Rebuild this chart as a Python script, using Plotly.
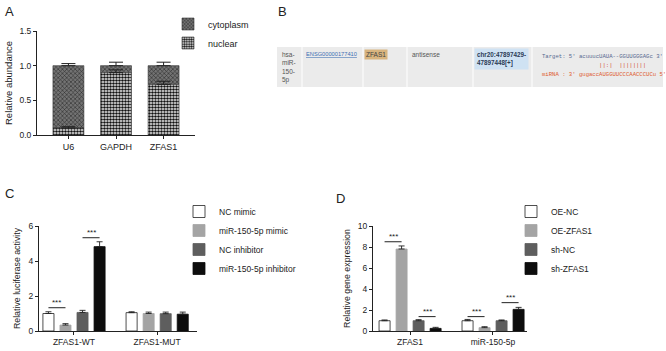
import plotly.graph_objects as go

W, H = 666, 351
FONT = "Liberation Sans"
INK = "#222222"

# ---------------- Panel A data ----------------
a_categories = ["U6", "GAPDH", "ZFAS1"]
a_nuclear = [0.10, 0.90, 0.73]
a_nuclear_top = [0.12, 0.94, 0.775]      # top of error bar
a_cytoplasm = [0.90, 0.10, 0.27]
a_cytoplasm_top = [1.03, 1.05, 1.05]     # top of error bar (stacked)
a_yticks = [0.0, 0.5, 1.0, 1.5]

# ---------------- Panel B data ----------------
b_mirna = "hsa-<br>miR-<br>150-<br>5p"
b_gene_id = "ENSG00000177410"
b_gene = "ZFAS1"
b_type = "antisense"
b_location = "chr20:47897429-<br>47897448[+]"
b_target = "Target: 5' acuuucUAUA--GGUUGGGAGc 3'"
b_pairs = "                 ||:|  ||||||||"
b_mirna_seq = "miRNA : 3' gugaccAUGGUUCCCAACCCUCu 5'"

# ---------------- Panel C data ----------------
c_categories = ["ZFAS1-WT", "ZFAS1-MUT"]
c_series = ["NC mimic", "miR-150-5p mimic", "NC inhibitor", "miR-150-5p inhibitor"]
c_nc_mimic = [1.00, 1.05]
c_nc_mimic_top = [1.10, 1.10]
c_mimic = [0.34, 1.00]
c_mimic_top = [0.42, 1.08]
c_nc_inhibitor = [1.06, 0.99]
c_nc_inhibitor_top = [1.18, 1.08]
c_inhibitor = [4.82, 0.96]
c_inhibitor_top = [5.10, 1.08]
c_yticks = [0, 2, 4, 6]
# significance: (category index, bar i, bar j, line height)
c_sig = [(0, 0, 1, 1.33), (0, 2, 3, 5.33)]

# ---------------- Panel D data ----------------
d_categories = ["ZFAS1", "miR-150-5p"]
d_series = ["OE-NC", "OE-ZFAS1", "sh-NC", "sh-ZFAS1"]
d_oe_nc = [0.98, 0.98]
d_oe_nc_top = [1.05, 1.10]
d_oe_zfas1 = [7.81, 0.32]
d_oe_zfas1_top = [8.10, 0.41]
d_sh_nc = [0.98, 0.98]
d_sh_nc_top = [1.08, 1.05]
d_sh_zfas1 = [0.25, 2.06]
d_sh_zfas1_top = [0.35, 2.25]
d_yticks = [0, 2, 4, 6, 8, 10]
d_sig = [(0, 0, 1, 8.5), (0, 2, 3, 1.37), (1, 0, 1, 1.37), (1, 2, 3, 2.7)]

# ---------------- styles ----------------
FILLS = ["#ffffff", "#a4a4a4", "#5e5e5e", "#0d0d0d"]
EDGES = ["#222222", "#a4a4a4", "#5e5e5e", "#0d0d0d"]
BAR_W = 0.133
STEP = 0.205
OFF0 = -0.373


def px_x(p):
    return p / W


def px_y(p):
    return 1 - p / H


fig = go.Figure()


def errs(vals, tops):
    return [t - v for v, t in zip(vals, tops)]


# ---------------- Panel A ----------------
fig.add_trace(go.Bar(
    x=a_categories, y=a_cytoplasm, base=a_nuclear, name="cytoplasm",
    xaxis="x", yaxis="y", width=0.65, legend="legend",
    marker=dict(color="#666666", line=dict(color="#333333", width=0.6),
                pattern=dict(shape="x", fgcolor="#2a2a2a", bgcolor="#737373",
                             size=3, solidity=0.35)),
    error_y=dict(type="data", symmetric=False,
                 array=errs(a_cytoplasm, [t - n for t, n in zip(a_cytoplasm_top, a_nuclear)]),
                 arrayminus=[0] * 3, color=INK, thickness=1, width=7),
))
fig.add_trace(go.Bar(
    x=a_categories, y=a_nuclear, name="nuclear",
    xaxis="x", yaxis="y", width=0.65, legend="legend",
    marker=dict(color="#ffffff", line=dict(color="#333333", width=0.6),
                pattern=dict(shape=".", fgcolor="#111111", bgcolor="#ffffff",
                             size=3, solidity=0.6)),
    error_y=dict(type="data", symmetric=False,
                 array=errs(a_nuclear, a_nuclear_top),
                 arrayminus=[0] * 3, color=INK, thickness=1, width=7),
))


# ---------------- grouped panels ----------------
def add_grouped(xa, ya, cats, names, vals, tops, legend):
    for i, (n, v, t) in enumerate(zip(names, vals, tops)):
        fig.add_trace(go.Bar(
            x=cats, y=v, name=n, xaxis=xa, yaxis=ya, legend=legend,
            width=BAR_W, offset=OFF0 + i * STEP,
            marker=dict(color=FILLS[i], line=dict(color=EDGES[i], width=0.8)),
            error_y=dict(type="data", symmetric=False, array=errs(v, t),
                         arrayminus=[0] * len(v), color=INK, thickness=0.9, width=3),
        ))


def add_sig(xa, ya, sig):
    for cat, i, j, yv in sig:
        x0 = cat + OFF0 + i * STEP + BAR_W / 2
        x1 = cat + OFF0 + j * STEP + BAR_W / 2
        fig.add_shape(type="line", xref=xa, yref=ya, x0=x0, x1=x1, y0=yv, y1=yv,
                      line=dict(color=INK, width=1))
        fig.add_annotation(xref=xa, yref=ya, x=(x0 + x1) / 2, y=yv, text="***",
                           showarrow=False, yanchor="bottom", yshift=-1,
                           font=dict(size=8, color=INK, family=FONT))


add_grouped("x2", "y2", c_categories, c_series,
            [c_nc_mimic, c_mimic, c_nc_inhibitor, c_inhibitor],
            [c_nc_mimic_top, c_mimic_top, c_nc_inhibitor_top, c_inhibitor_top], "legend2")
add_sig("x2", "y2", c_sig)

add_grouped("x3", "y3", d_categories, d_series,
            [d_oe_nc, d_oe_zfas1, d_sh_nc, d_sh_zfas1],
            [d_oe_nc_top, d_oe_zfas1_top, d_sh_nc_top, d_sh_zfas1_top], "legend3")
add_sig("x3", "y3", d_sig)

# ---------------- Panel B (table drawn with shapes + text) ----------------
col_w = [25, 61, 44, 66, 59, 131]
tbl_x0, tbl_x1, tbl_y0, tbl_y1 = 277, 663, 47, 87
tot = sum(col_w)
lefts = [tbl_x0 + (tbl_x1 - tbl_x0) * sum(col_w[:k]) / tot for k in range(len(col_w))]

fig.add_shape(type="rect", xref="paper", yref="paper", layer="below",
              x0=px_x(tbl_x0), x1=px_x(tbl_x1), y0=px_y(tbl_y1), y1=px_y(tbl_y0),
              fillcolor="#ebebeb", line=dict(width=0))
for lx in lefts[1:]:
    fig.add_shape(type="line", xref="paper", yref="paper", layer="below",
                  x0=px_x(lx), x1=px_x(lx), y0=px_y(tbl_y1), y1=px_y(tbl_y0),
                  line=dict(color="#ffffff", width=1))


def cell_text(col, text, y_top, size=6.5, color="#555555", family=FONT, bg=None, pad=1, dx=3):
    fig.add_annotation(xref="paper", yref="paper", x=px_x(lefts[col] + dx), y=px_y(y_top),
                       xanchor="left", yanchor="top", align="left", text=text,
                       showarrow=False, bgcolor=bg, borderpad=pad,
                       font=dict(size=size, color=color, family=family))


cell_text(0, b_mirna, 49.5)
cell_text(1, "<u>" + b_gene_id + "</u>", 49.5, size=5.7, color="#3d6fb3", dx=2)
cell_text(2, b_gene, 49.5, color="#444444", bg="#d8b47e", dx=1)
cell_text(3, b_type, 49.5)
cell_text(4, "<b>" + b_location + "</b>", 47.5, size=6.3, color="#2b3a55", bg="#cfe2f3", pad=2, dx=0.5)
sp = "\u00a0"
MONO = "Liberation Mono"
cell_text(5, b_target.replace(" ", sp), 51.5, size=5.6, color="#56688f", family=MONO, dx=8)
cell_text(5, b_pairs.replace(" ", sp), 60.0, size=5.6, color="#d2402f", family=MONO, dx=8)
cell_text(5, b_mirna_seq.replace(" ", sp), 68.5, size=5.6, color="#de5a2c", family=MONO, dx=8)

# ---------------- Panel letters ----------------
for letter, xp, yp in [("A", 3, 2), ("B", 276, 2), ("C", 3, 184), ("D", 334, 189)]:
    fig.add_annotation(xref="paper", yref="paper", x=px_x(xp), y=px_y(yp), text=letter,
                       xanchor="left", yanchor="top", showarrow=False,
                       font=dict(size=13, color=INK, family=FONT))

# ---------------- Axes ----------------
common = dict(showline=True, linecolor=INK, linewidth=1, ticks="outside", ticklen=3,
              tickcolor=INK, tickwidth=1, showgrid=False, zeroline=False, automargin=False,
              tickfont=dict(size=8.5, color=INK, family=FONT), fixedrange=True)

fig.update_layout(
    template="none",
    xaxis=dict(domain=[px_x(37), px_x(195)], anchor="y", type="category",
               range=[-0.66, 2.66], **{**common, "tickfont": dict(size=9, color=INK, family=FONT)}),
    yaxis=dict(domain=[px_y(135), px_y(31)], anchor="x", range=[0, 1.5],
               tickvals=a_yticks, tickformat=".1f",
               title=dict(text="Relative abundance", standoff=5,
                          font=dict(size=9.5, color=INK, family=FONT)), **common),
    xaxis2=dict(domain=[px_x(39), px_x(197)], anchor="y2", type="category",
                range=[-0.42, 1.48], **common),
    yaxis2=dict(domain=[px_y(331), px_y(226)], anchor="x2", range=[0, 6],
                tickvals=c_yticks,
                title=dict(text="Relative luciferase activity", standoff=6,
                           font=dict(size=8.8, color=INK, family=FONT)), **common),
    xaxis3=dict(domain=[px_x(373), px_x(527)], anchor="y3", type="category",
                range=[-0.446, 1.41], **common),
    yaxis3=dict(domain=[px_y(331), px_y(226)], anchor="x3", range=[0, 10],
                tickvals=d_yticks,
                title=dict(text="Relative gene expression", standoff=5,
                           font=dict(size=8.8, color=INK, family=FONT)), **common),
)

leg_common = dict(xanchor="left", yanchor="top", bgcolor="rgba(0,0,0,0)",
                  borderwidth=0, traceorder="normal")
fig.update_layout(
    width=W, height=H, margin=dict(l=0, r=0, t=0, b=0, autoexpand=False),
    paper_bgcolor="white", plot_bgcolor="white",
    barmode="overlay", showlegend=True, hovermode=False,
    font=dict(family=FONT, color=INK),
    legend=dict(x=px_x(168), y=px_y(9.5), font=dict(size=9, color=INK, family=FONT), **leg_common),
    legend2=dict(x=px_x(179), y=px_y(197), font=dict(size=8.5, color=INK, family=FONT), **leg_common),
    legend3=dict(x=px_x(511), y=px_y(197), font=dict(size=8.5, color=INK, family=FONT), **leg_common),
)

# the page's default 8px body margin would push the fixed-size figure off the window
fig.write_html("out.html", config={"displayModeBar": False},
               post_script="document.body.style.margin='0';")
